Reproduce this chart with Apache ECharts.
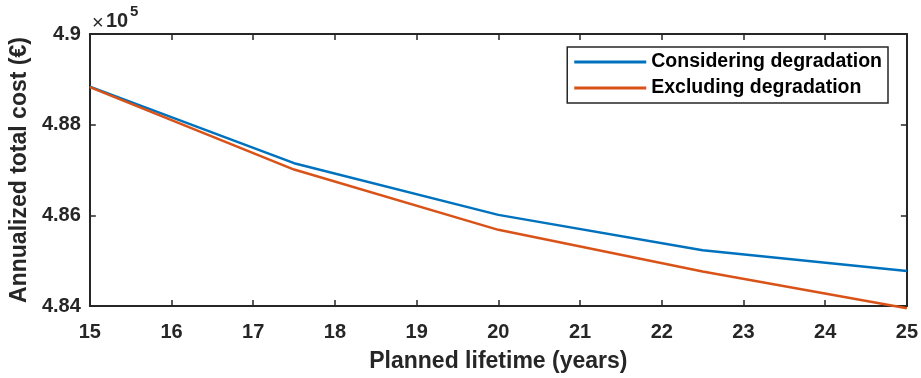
<!DOCTYPE html>
<html>
<head>
<meta charset="utf-8">
<script src="https://cdn.jsdelivr.net/npm/echarts@6/dist/echarts.min.js"></script>
<style>
  html, body { margin: 0; padding: 0; background: #fff; }
  #chart { width: 921px; height: 378px; }
</style>
</head>
<body>
<div id="chart"></div>
<script>
// planned lifetime (years)
var years = [15, 17.5, 20, 22.5, 25];
// annualized total cost (EUR)
var considering = [488840, 487150, 486010, 485230, 484770];
var excluding = [488830, 487010, 485680, 484760, 483950];

var font = '"Liberation Sans", Arial, sans-serif';
var axisLine = { show: true, lineStyle: { color: '#262626', width: 2 } };
var tick = { inside: true, length: 6, lineStyle: { color: '#262626', width: 1.5 } };

function pairs(xs, ys) {
  return xs.map(function (x, i) { return [x, ys[i]]; });
}

var chart = echarts.init(document.getElementById('chart'));
chart.setOption({
  animation: false,
  grid: { left: 89, right: 14, top: 34, bottom: 72 },
  legend: {
    right: 33, top: 47,
    orient: 'vertical',
    itemWidth: 72, itemHeight: 3, itemGap: 4,
    padding: [4, 6, 4, 7],
    borderColor: '#262626', borderWidth: 1.5,
    backgroundColor: '#fff',
    icon: 'rect',
    textStyle: { fontFamily: font, fontWeight: 'bold', fontSize: 19.5, lineHeight: 22, color: '#000' },
    data: ['Considering degradation', 'Excluding degradation']
  },
  xAxis: [{
    type: 'value', min: 15, max: 25, interval: 1,
    name: 'Planned lifetime (years)', nameLocation: 'middle', nameGap: 44,
    nameTextStyle: { fontFamily: font, fontWeight: 'bold', fontSize: 23, color: '#262626' },
    axisLine: axisLine,
    axisTick: tick,
    axisLabel: { fontFamily: font, fontWeight: 'bold', fontSize: 20, color: '#262626', margin: 16 },
    splitLine: { show: false }
  }, {
    type: 'value', min: 15, max: 25, interval: 1, position: 'top',
    axisLine: axisLine,
    axisTick: tick,
    axisLabel: { show: false }, splitLine: { show: false }
  }],
  yAxis: [{
    type: 'value', min: 484000, max: 490000, interval: 2000,
    name: 'Annualized total cost (€)', nameLocation: 'middle', nameGap: 55,
    nameTextStyle: { fontFamily: font, fontWeight: 'bold', fontSize: 23, color: '#262626' },
    axisLine: axisLine,
    axisTick: tick,
    axisLabel: {
      fontFamily: font, fontWeight: 'bold', fontSize: 20, color: '#262626', margin: 9,
      formatter: function (v) { return String(parseFloat((v / 1e5).toFixed(2))); }
    },
    splitLine: { show: false }
  }, {
    type: 'value', min: 484000, max: 490000, interval: 2000, position: 'right',
    axisLine: axisLine,
    axisTick: tick,
    axisLabel: { show: false }, splitLine: { show: false }
  }],
  graphic: [{
    type: 'text',
    style: { x: 92, y: 23, text: '×', verticalAlign: 'middle',
      font: 'normal 20px "Liberation Sans", Arial, sans-serif', fill: '#262626' }
  }, {
    type: 'text',
    style: { x: 106, y: 21, text: '10', verticalAlign: 'middle',
      font: 'bold 20px "Liberation Sans", Arial, sans-serif', fill: '#262626' }
  }, {
    type: 'text',
    style: { x: 130, y: 11.5, text: '5', verticalAlign: 'middle',
      font: 'bold 15px "Liberation Sans", Arial, sans-serif', fill: '#262626' }
  }],
  series: [{
    name: 'Considering degradation', type: 'line',
    data: pairs(years, considering),
    showSymbol: false, smooth: false, clip: false,
    lineStyle: { color: '#0072BD', width: 2.5 },
    itemStyle: { color: '#0072BD' }
  }, {
    name: 'Excluding degradation', type: 'line',
    data: pairs(years, excluding),
    showSymbol: false, smooth: false, clip: false,
    lineStyle: { color: '#D95319', width: 2.5 },
    itemStyle: { color: '#D95319' }
  }]
});
</script>
</body>
</html>
